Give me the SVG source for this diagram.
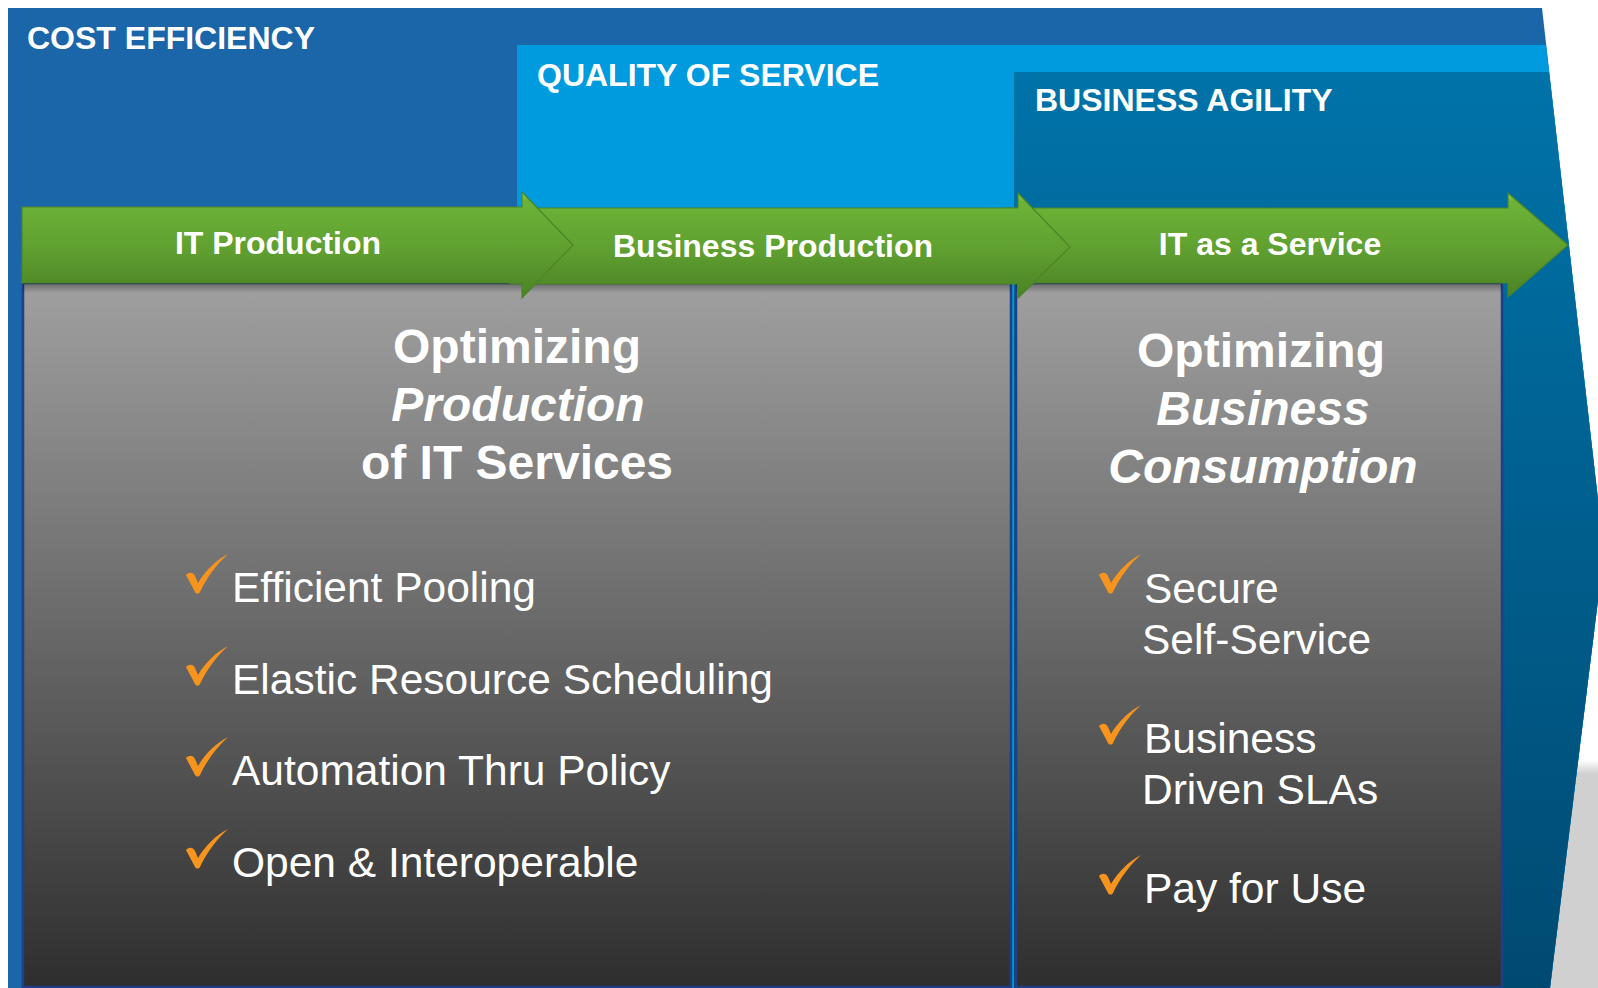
<svg xmlns="http://www.w3.org/2000/svg" xmlns:xlink="http://www.w3.org/1999/xlink" width="1598" height="988" viewBox="0 0 1598 988">
  <style>
    .band { font-family: "Liberation Sans", Arial, sans-serif; font-weight: bold; font-size: 32px; fill: #ffffff; }
    .arrowlabel { font-family: "Liberation Sans", Arial, sans-serif; font-weight: bold; font-size: 32px; fill: #ffffff; text-anchor: middle; }
    .title { font-family: "Liberation Sans", Arial, sans-serif; font-weight: bold; font-size: 48px; fill: #ffffff; text-anchor: middle; }
    .it { font-style: italic; }
    .item { font-family: "Liberation Sans", Arial, sans-serif; font-size: 42.5px; fill: #ffffff; }
    .arrow { fill: url(#gGreen); stroke: #4c8427; stroke-width: 1.2; }
    .panel { fill: url(#gGray); stroke: #1f3f86; stroke-width: 2.5; }
    .check { fill: #f7941d; }
  </style>
  <defs>
    <linearGradient id="gGreen" x1="0" y1="0" x2="0" y2="1">
      <stop offset="0" stop-color="#8fd355"/>
      <stop offset="0.08" stop-color="#6db338"/>
      <stop offset="0.55" stop-color="#5f9f30"/>
      <stop offset="1" stop-color="#4a8225"/>
    </linearGradient>
    <linearGradient id="gGray" x1="0" y1="0" x2="0" y2="1">
      <stop offset="0" stop-color="#a0a0a0"/>
      <stop offset="0.4" stop-color="#737373"/>
      <stop offset="1" stop-color="#2e2e2e"/>
    </linearGradient>
    <linearGradient id="gAgility" x1="0" y1="0" x2="0" y2="1">
      <stop offset="0" stop-color="#0073a9"/>
      <stop offset="1" stop-color="#004a72"/>
    </linearGradient>
    <linearGradient id="gShadow" x1="0" y1="0" x2="0" y2="1">
      <stop offset="0" stop-color="#000" stop-opacity="0.35"/>
      <stop offset="1" stop-color="#000" stop-opacity="0"/>
    </linearGradient>
    <linearGradient id="gReflect" x1="0" y1="0" x2="0" y2="1">
      <stop offset="0" stop-color="#d0d0d0" stop-opacity="0"/>
      <stop offset="0.06" stop-color="#d0d0d0"/>
      <stop offset="1" stop-color="#d0d0d0"/>
    </linearGradient>
    <path id="check" d="M0,21 C3,18 7,18 9,22 L12,29 C19,17 29,7 42,0 C31,10 21,23 14,38 C13,40 10,40 9,38 Z"/>
  </defs>

  <rect width="1598" height="988" fill="#ffffff"/>
  <rect x="1540" y="760" width="58" height="228" fill="url(#gReflect)"/>

  <g id="band-cost-efficiency">
    <polygon points="8,8 1542,8 1604,552 1550,988 8,988" fill="#1a66a9"/>
    <text class="band" x="27" y="49">COST EFFICIENCY</text>
  </g>
  <g id="band-quality-of-service">
    <polygon points="517,45 1546,45 1604,552 1550,988 517,988" fill="#009ade"/>
    <text class="band" x="537" y="86">QUALITY OF SERVICE</text>
  </g>
  <g id="band-business-agility">
    <polygon points="1014,72 1549,72 1604,552 1550,988 1014,988" fill="url(#gAgility)"/>
    <text class="band" x="1035" y="111">BUSINESS AGILITY</text>
  </g>

  <g id="panel-left">
    <rect class="panel" x="23" y="283" width="988" height="704"/>
    <rect x="23" y="283" width="988" height="10" fill="url(#gShadow)"/>
    <text class="title" x="517" y="363">Optimizing</text>
    <text class="title it" x="518" y="421">Production</text>
    <text class="title" x="517" y="479">of IT Services</text>
    <use href="#check" class="check" x="186" y="554"/>
    <text class="item" x="232" y="602">Efficient Pooling</text>
    <use href="#check" class="check" x="186" y="646"/>
    <text class="item" x="232" y="694">Elastic Resource Scheduling</text>
    <use href="#check" class="check" x="186" y="737"/>
    <text class="item" x="232" y="785">Automation Thru Policy</text>
    <use href="#check" class="check" x="186" y="829"/>
    <text class="item" x="232" y="877">Open &amp; Interoperable</text>
  </g>

  <g id="panel-right">
    <rect class="panel" x="1016" y="283" width="486" height="704"/>
    <rect x="1016" y="283" width="486" height="10" fill="url(#gShadow)"/>
    <text class="title" x="1261" y="367">Optimizing</text>
    <text class="title it" x="1263" y="425">Business</text>
    <text class="title it" x="1263" y="483">Consumption</text>
    <use href="#check" class="check" x="1099" y="554"/>
    <text class="item" x="1144" y="603">Secure</text>
    <text class="item" x="1142" y="654">Self-Service</text>
    <use href="#check" class="check" x="1099" y="705"/>
    <text class="item" x="1144" y="753">Business</text>
    <text class="item" x="1142" y="804">Driven SLAs</text>
    <use href="#check" class="check" x="1099" y="855"/>
    <text class="item" x="1144" y="903">Pay for Use</text>
  </g>

  <g id="arrow-it-as-a-service">
    <polygon class="arrow" points="1005,208 1508,208 1508,193 1568,245 1508,297 1508,283 1005,283"/>
    <text class="arrowlabel" x="1270" y="255">IT as a Service</text>
  </g>
  <g id="arrow-business-production">
    <polygon class="arrow" points="510,208 1018,208 1018,193 1070,247 1018,298 1018,284 510,284"/>
    <text class="arrowlabel" x="773" y="257">Business Production</text>
  </g>
  <g id="arrow-it-production">
    <polygon class="arrow" points="22,207 522,207 522,192 573,245 522,298 522,283 22,283"/>
    <text class="arrowlabel" x="278" y="254">IT Production</text>
  </g>
</svg>
